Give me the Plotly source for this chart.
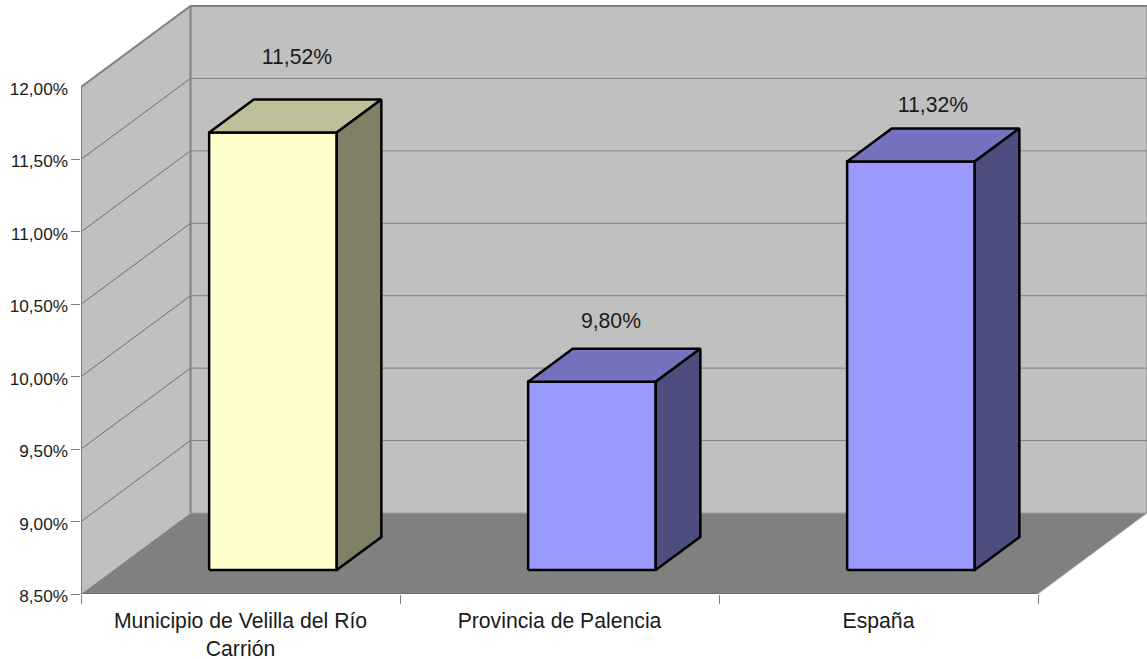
import plotly.graph_objects as go

# Data
categories = ["Municipio de Velilla del Río<br>Carrión", "Provincia de Palencia", "España"]
values = [11.52, 9.80, 11.32]
y_ticks = [8.5, 9.0, 9.5, 10.0, 10.5, 11.0, 11.5, 12.0]
front_colors = ["#ffffcc", "#9999ff", "#9999ff"]
top_colors = ["#bfbf99", "#7373bf", "#7373bf"]
side_colors = ["#808066", "#4d4d80", "#4d4d80"]
label_dx_px = [24, 19, 22]
label_dy_px = [74, 59, 55]

# Layout geometry
W, H = 1147, 659
LEFT, BOTTOM = 81, 594
PX_PER_CAT, PX_PER_UNIT = 319.0, 144.86
DEPTH_X, DEPTH_Y = 109.5 / PX_PER_CAT, 81 / PX_PER_UNIT
Y0, Y1 = y_ticks[0], y_ticks[-1]
N = len(categories)
GAP = 0.3
BAR_D0, BAR_D1 = 24 / 81, 57 / 81


def proj(c, v, d=0.0):
    return c + d * DEPTH_X, v + d * DEPTH_Y


fig = go.Figure()


def poly(points, fill=None, line=None, width=1):
    xs = [p[0] for p in points]
    ys = [p[1] for p in points]
    fig.add_trace(go.Scatter(
        x=xs, y=ys, mode="lines", cliponaxis=False, hoverinfo="skip", showlegend=False,
        fill="toself" if fill else None, fillcolor=fill,
        line=dict(color=line or "rgba(0,0,0,0)", width=width if line else 0),
    ))


WALL, EDGE, GRID = "#c0c0c0", "#808080", "#4a4a4a"

# Walls
poly([proj(0, Y0), proj(0, Y1), proj(0, Y1, 1), proj(0, Y0, 1), proj(0, Y0)], WALL)
poly([proj(0, Y0, 1), proj(0, Y1, 1), proj(N, Y1, 1), proj(N, Y0, 1), proj(0, Y0, 1)], WALL)

# Grid lines on both walls
for t in y_ticks[1:-1]:
    poly([proj(0, t), proj(0, t, 1)], None, GRID, 0.7)
    poly([proj(0, t, 1), proj(N, t, 1)], None, "#808080", 1)

# Floor
poly([proj(0, Y0), proj(N, Y0), proj(N, Y0, 1), proj(0, Y0, 1), proj(0, Y0)], "#808080")
poly([proj(0, Y0, 1), proj(N, Y0, 1)], None, "#a0a0a0", 1)
poly([proj(N, Y0), proj(N, Y0, 1)], None, "#c8c8c8", 1)

# Wall outlines
poly([proj(0, Y0), proj(0, Y1), proj(0, Y1, 1), proj(N, Y1, 1), proj(N, Y0, 1)], None, EDGE, 2)
poly([proj(0, Y1, 1), proj(0, Y0, 1)], None, EDGE, 2)
poly([proj(0, Y0), proj(N, Y0)], None, "#666666", 1.5)

# Bars
for i, v in enumerate(values):
    a, b = i + GAP, i + 1 - GAP
    poly([proj(a, Y0, BAR_D0), proj(a, v, BAR_D0), proj(b, v, BAR_D0), proj(b, Y0, BAR_D0), proj(a, Y0, BAR_D0)],
         front_colors[i], "#000000", 2.5)
    poly([proj(a, v, BAR_D0), proj(a, v, BAR_D1), proj(b, v, BAR_D1), proj(b, v, BAR_D0), proj(a, v, BAR_D0)],
         top_colors[i], "#000000", 2.5)
    poly([proj(b, Y0, BAR_D0), proj(b, v, BAR_D0), proj(b, v, BAR_D1), proj(b, Y0, BAR_D1), proj(b, Y0, BAR_D0)],
         side_colors[i], "#000000", 2.5)

# Value labels
fig.add_trace(go.Scatter(
    x=[i + 0.5 + dx / PX_PER_CAT + BAR_D0 * DEPTH_X for i, dx in enumerate(label_dx_px)],
    y=[v + BAR_D0 * DEPTH_Y + dy / PX_PER_UNIT for v, dy in zip(values, label_dy_px)],
    text=[f"{v:.2f}%".replace(".", ",") for v in values],
    mode="text", textposition="middle center", cliponaxis=False, hoverinfo="skip", showlegend=False,
    textfont=dict(family="Liberation Sans", size=21.2, color="#1a1a1a"),
))

# Invisible trace that keeps the tick-mark axes alive
fig.add_trace(go.Scatter(x=[0], y=[Y0], xaxis="x2", yaxis="y2", mode="markers",
                         marker=dict(opacity=0), hoverinfo="skip", showlegend=False))

x_range = [0, (W - LEFT) / PX_PER_CAT]
y_range = [Y0, Y0 + BOTTOM / PX_PER_UNIT]
y_font = dict(family="Liberation Sans", size=17.2, color="#1a1a1a")
x_font = dict(family="Liberation Sans", size=21.2, color="#1a1a1a")

fig.update_layout(
    width=W, height=H, autosize=False,
    margin=dict(l=LEFT, r=0, t=0, b=H - BOTTOM, pad=0, autoexpand=False),
    paper_bgcolor="white", plot_bgcolor="white",
    showlegend=False,
    xaxis=dict(range=x_range, tickmode="array", tickvals=[i + 0.5 for i in range(N)], ticktext=categories,
               ticks="", ticklen=0, ticklabelstandoff=12, showgrid=False, zeroline=False, showline=False,
               tickfont=x_font, automargin=False),
    yaxis=dict(range=y_range, tickmode="array", tickvals=y_ticks,
               ticktext=[f"{t:.2f}%".replace(".", ",") for t in y_ticks],
               ticks="", ticklen=0, ticklabelstandoff=12, ticklabelshift=2, showgrid=False, zeroline=False,
               showline=False, tickfont=y_font, automargin=False),
    xaxis2=dict(range=x_range, overlaying="x", anchor="y2", tickmode="array", tickvals=list(range(N + 1)),
                ticks="outside", ticklen=9, tickcolor="#808080", tickwidth=1, showticklabels=False,
                showgrid=False, zeroline=False, showline=False),
    yaxis2=dict(range=y_range, overlaying="y", anchor="x2", tickmode="array", tickvals=y_ticks[:-1],
                ticks="outside", ticklen=9, tickcolor="#808080", tickwidth=1, showticklabels=False,
                showgrid=False, zeroline=False, showline=False),
)

fig.write_html("out.html", config={"displayModeBar": False},
               post_script="document.body.style.margin='0';window.dispatchEvent(new Event('resize'));")
